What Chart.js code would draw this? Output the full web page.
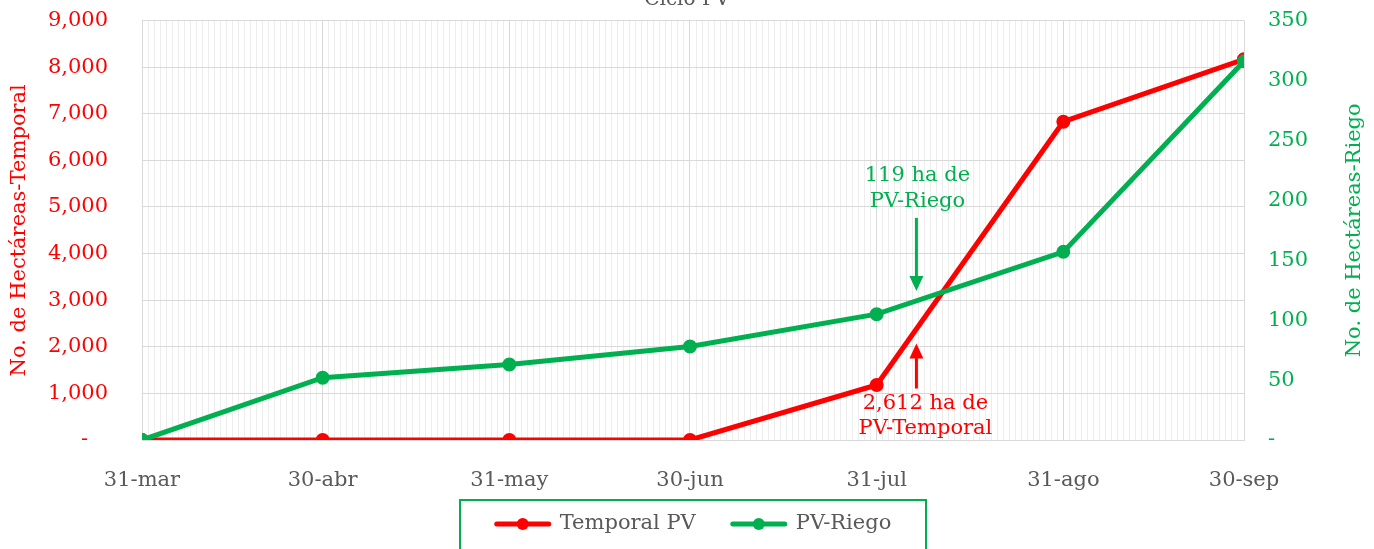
<!DOCTYPE html>
<html>
<head>
<meta charset="utf-8">
<script src="https://cdn.jsdelivr.net/npm/chart.js@4.4.1/dist/chart.umd.min.js"></script>
<style>
  html, body { margin: 0; padding: 0; background: #fff; overflow: hidden; }
  #wrap { position: absolute; left: 0; top: -26px; width: 1374px; height: 620px; }
</style>
</head>
<body>
<div id="wrap"><canvas id="ciclo"></canvas></div>
<script>
'use strict';

// fechas de corte y días transcurridos desde el 31 de marzo
const fechas = ['31-mar', '30-abr', '31-may', '30-jun', '31-jul', '31-ago', '30-sep'];
const dias = [0, 30, 61, 91, 122, 153, 183];

// hectáreas acumuladas
const temporal = [0, 0, 0, 0, 1180, 6830, 8170];
const riego = [0, 52, 63, 78, 105, 157, 316];

// notas con flecha (día, valor en el eje izquierdo)
const notas = [
  { texto: ['119 ha de', 'PV-Riego'], color: '#00B050', dia: 128.6, valor: 3200, dir: 'abajo' },
  { texto: ['2,612 ha de', 'PV-Temporal'], color: '#FF0000', dia: 128.6, valor: 2070, dir: 'arriba' }
];

const FUENTE = '"DejaVu Serif", serif';
const TAM = 21;
const GRIS = '#595959';

const notasPlugin = {
  id: 'notas',
  afterDatasetsDraw(chart) {
    const ctx = chart.ctx;
    const sx = chart.scales.x, sy = chart.scales.y;
    ctx.save();
    ctx.font = TAM + 'px ' + FUENTE;
    ctx.textAlign = 'center';
    ctx.textBaseline = 'middle';
    notas.forEach(n => {
      const x = sx.getPixelForValue(n.dia);
      const y = sy.getPixelForValue(n.valor);
      ctx.strokeStyle = n.color;
      ctx.fillStyle = n.color;
      ctx.lineWidth = 3;
      const s = n.dir === 'abajo' ? -1 : 1;   // lado de la cola
      const largo = n.dir === 'abajo' ? 73 : 45;
      ctx.beginPath();
      ctx.moveTo(x, y + s * 12);
      ctx.lineTo(x, y + s * largo);
      ctx.stroke();
      ctx.beginPath();
      ctx.moveTo(x, y);
      ctx.lineTo(x - 7, y + s * 15);
      ctx.lineTo(x + 7, y + s * 15);
      ctx.closePath();
      ctx.fill();
      if (n.dir === 'abajo') {
        ctx.fillText(n.texto[0], x + 1, y - 115);
        ctx.fillText(n.texto[1], x + 1, y - 89);
      } else {
        ctx.fillText(n.texto[0], x + 9, y + 60);
        ctx.fillText(n.texto[1], x + 9, y + 85);
      }
    });
    ctx.restore();
  }
};

// título del eje derecho, leído de abajo hacia arriba como en el original
const tituloDerecho = {
  id: 'tituloDerecho',
  afterDraw(chart) {
    const { ctx, chartArea } = chart;
    ctx.save();
    ctx.translate(1355, (chartArea.top + chartArea.bottom) / 2);
    ctx.rotate(-Math.PI / 2);
    ctx.font = TAM + 'px ' + FUENTE;
    ctx.fillStyle = '#00B050';
    ctx.textAlign = 'center';
    ctx.textBaseline = 'middle';
    ctx.fillText('No. de Hectáreas-Riego', 0, 0);
    ctx.restore();
  }
};

const leyendaPlugin = {
  id: 'leyenda',
  afterDraw(chart) {
    const { ctx, chartArea } = chart;
    const cx = (chartArea.left + chartArea.right) / 2;
    const top = chartArea.bottom + 60;
    ctx.save();
    ctx.font = TAM + 'px ' + FUENTE;
    const items = chart.data.datasets.map(ds => ({ ds, w: 56 + 9 + ctx.measureText(ds.label).width }));
    const gap = 35;
    const total = items.reduce((s, it) => s + it.w, 0) + gap * (items.length - 1);
    ctx.strokeStyle = '#00B050';
    ctx.lineWidth = 2;
    ctx.strokeRect(cx - 233, top, 466, 80);
    let x = cx - total / 2;
    const y = top + 24;
    items.forEach(it => {
      ctx.strokeStyle = it.ds.borderColor;
      ctx.fillStyle = it.ds.borderColor;
      ctx.lineWidth = 5;
      ctx.lineCap = 'round';
      ctx.beginPath();
      ctx.moveTo(x + 2, y);
      ctx.lineTo(x + 54, y);
      ctx.stroke();
      ctx.beginPath();
      ctx.arc(x + 28, y, 6, 0, Math.PI * 2);
      ctx.fill();
      ctx.fillStyle = GRIS;
      ctx.textAlign = 'left';
      ctx.textBaseline = 'middle';
      ctx.fillText(it.ds.label, x + 65, y);
      x += it.w + gap;
    });
    ctx.restore();
  }
};

const serie = vals => dias.map((d, i) => ({ x: d, y: vals[i] }));

const chart = new Chart(document.getElementById('ciclo'), {
  type: 'line',
  data: {
    datasets: [{
      label: 'Temporal PV',
      data: serie(temporal),
      borderColor: '#FF0000',
      backgroundColor: '#FF0000',
      borderWidth: 5,
      pointRadius: 6,
      pointBorderWidth: 2,
      tension: 0,
      yAxisID: 'y',
      order: 1
    }, {
      label: 'PV-Riego',
      data: serie(riego),
      borderColor: '#00B050',
      backgroundColor: '#00B050',
      borderWidth: 5,
      pointRadius: 6,
      pointBorderWidth: 2,
      tension: 0,
      yAxisID: 'y2',
      order: 0
    }]
  },
  options: {
    responsive: true,
    maintainAspectRatio: false,
    animation: false,
    layout: { padding: { top: 0, bottom: 94, left: 0, right: 0 } },
    plugins: {
      legend: { display: false },
      tooltip: { enabled: false },
      title: {
        display: true,
        text: 'Ciclo PV',
        color: GRIS,
        font: { family: FUENTE, size: 20, weight: 'normal' },
        padding: { top: 12, bottom: 9 }
      }
    },
    scales: {
      x: {
        type: 'linear',
        min: 0,
        max: 183,
        afterBuildTicks: ax => {
          const t = [];
          for (let d = 0; d <= 183; d++) t.push({ value: d });
          ax.ticks = t;
        },
        afterFit: ax => { ax.height = 60; },
        ticks: {
          autoSkip: false,
          maxRotation: 0,
          padding: 28,
          color: GRIS,
          font: { family: FUENTE, size: TAM },
          callback: v => {
            const i = dias.indexOf(v);
            return i >= 0 ? fechas[i] : '';
          }
        },
        grid: {
          drawTicks: false,
          color: c => (c.tick && dias.includes(c.tick.value)) ? '#d9d9d9' : '#ededed'
        },
        border: { color: '#d9d9d9' }
      },
      y: {
        position: 'left',
        min: 0,
        max: 9000,
        afterFit: ax => { ax.width = 142; },
        ticks: {
          stepSize: 1000,
          padding: 34,
          color: '#FF0000',
          font: { family: FUENTE, size: TAM },
          callback: v => v === 0 ? '-   ' : v.toLocaleString('en-US')
        },
        grid: { drawTicks: false, color: '#d9d9d9' },
        border: { color: '#d9d9d9' },
        title: {
          display: true,
          text: 'No. de Hectáreas-Temporal',
          color: '#FF0000',
          font: { family: FUENTE, size: TAM },
          padding: { top: 7, bottom: 0 }
        }
      },
      y2: {
        position: 'right',
        min: 0,
        max: 350,
        afterFit: ax => { ax.width = 130; },
        ticks: {
          stepSize: 50,
          padding: 24,
          color: '#00B050',
          font: { family: FUENTE, size: TAM },
          callback: v => v === 0 ? '-' : String(v)
        },
        grid: { display: false, drawTicks: false },
        border: { display: false }
      }
    }
  },
  plugins: [notasPlugin, tituloDerecho, leyendaPlugin]
});
</script>
</body>
</html>
